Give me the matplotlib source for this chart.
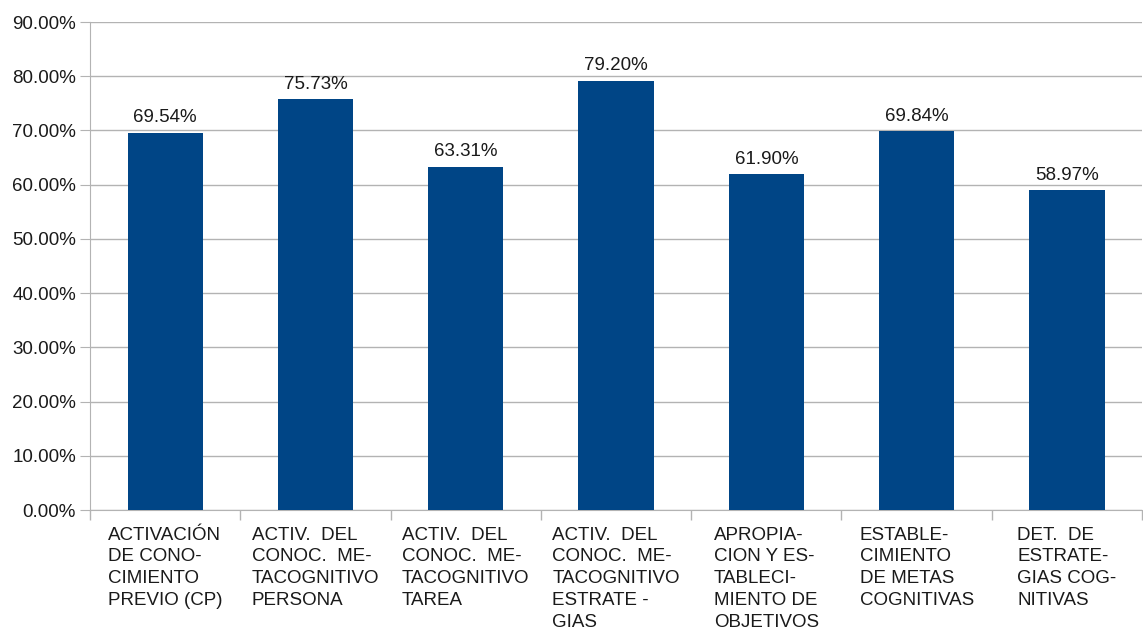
import matplotlib
matplotlib.use("Agg")
import matplotlib.pyplot as plt
from matplotlib.ticker import FuncFormatter, MultipleLocator

plt.rcParams['font.family'] = ['Liberation Sans', 'DejaVu Sans']

categorias = [
    "ACTIVACIÓN\nDE CONO-\nCIMIENTO\nPREVIO (CP)",
    "ACTIV.  DEL\nCONOC.  ME-\nTACOGNITIVO\nPERSONA",
    "ACTIV.  DEL\nCONOC.  ME-\nTACOGNITIVO\nTAREA",
    "ACTIV.  DEL\nCONOC.  ME-\nTACOGNITIVO\nESTRATE -\nGIAS",
    "APROPIA-\nCION Y ES-\nTABLECI-\nMIENTO DE\nOBJETIVOS",
    "ESTABLE-\nCIMIENTO\nDE METAS\nCOGNITIVAS",
    "DET.  DE\nESTRATE-\nGIAS COG-\nNITIVAS",
]
valores = [69.54, 75.73, 63.31, 79.20, 61.90, 69.84, 58.97]

fig = plt.figure(figsize=(11.43, 6.29), dpi=100)
ax = fig.add_axes([0.0787, 0.189, 0.9205, 0.776])

x = list(range(len(valores)))
ax.bar(x, valores, width=0.5, color="#004586", zorder=3)

for xi, v in zip(x, valores):
    ax.text(xi, v + 1.2, f"{v:.2f}%", ha="center", va="bottom", fontsize=13.5, color="#1a1a1a")

ax.set_xlim(-0.5, len(valores) - 0.5)
ax.set_ylim(0, 90)
ax.yaxis.set_major_locator(MultipleLocator(10))
ax.yaxis.set_major_formatter(FuncFormatter(lambda v, p: f"{v:.2f}%"))
ax.grid(axis="y", color="#b3b3b3", linewidth=1, zorder=0)

ax.set_xticks(x)
ax.set_xticklabels(categorias, fontsize=13.5, multialignment="left", linespacing=1.36, color="#1a1a1a")
ax.tick_params(axis="x", which="major", length=0, pad=12)
ax.set_xticks([i - 0.5 for i in range(len(valores) + 1)], minor=True)
ax.tick_params(axis="x", which="minor", length=7, color="#b3b3b3", width=1)
ax.tick_params(axis="y", length=7, color="#b3b3b3", labelsize=13.5, labelcolor="#1a1a1a", pad=3)

for s in ["top", "right"]:
    ax.spines[s].set_visible(False)
for s in ["left", "bottom"]:
    ax.spines[s].set_color("#b3b3b3")

fig.savefig("out.png", dpi=100)
